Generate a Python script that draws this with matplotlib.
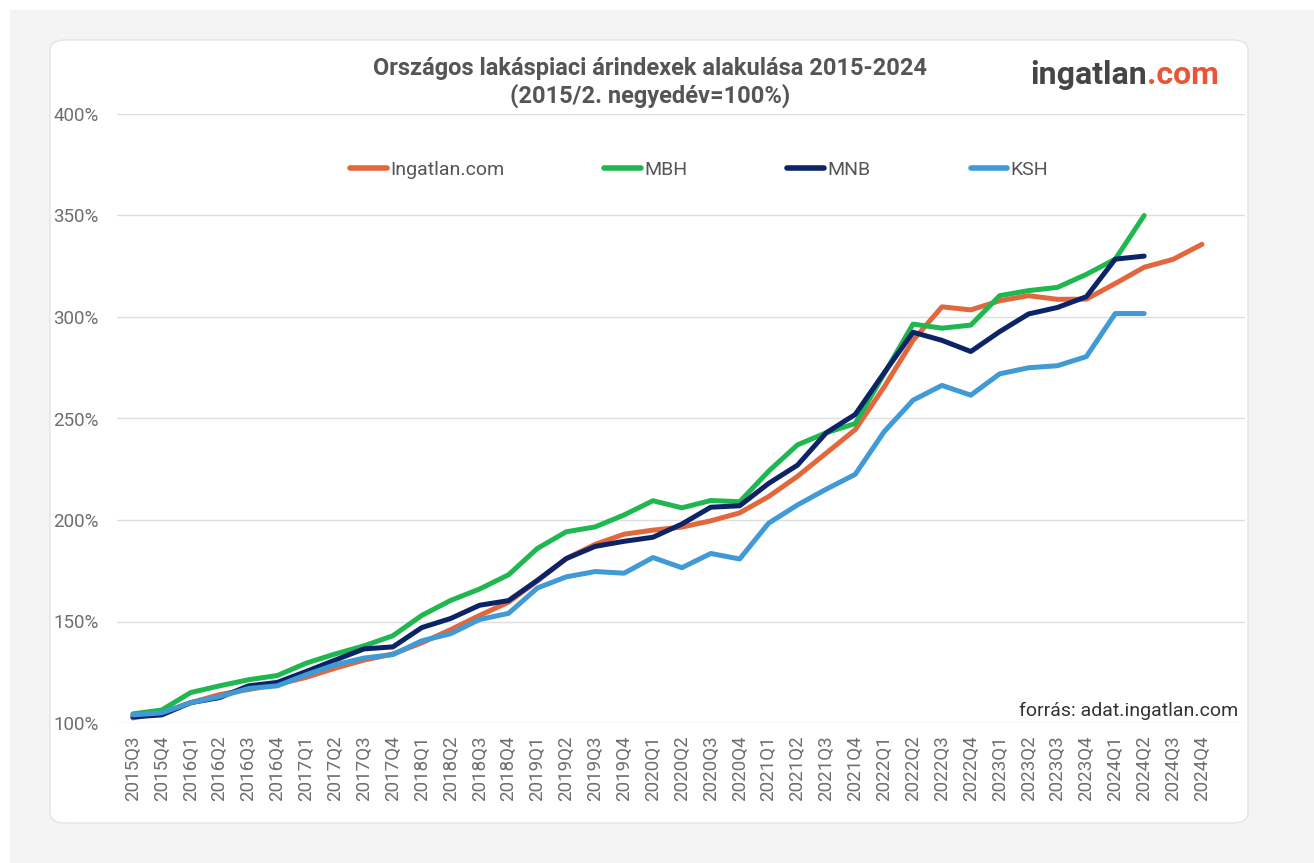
import matplotlib.pyplot as plt
import matplotlib.patches as patches

plt.rcParams['font.family'] = ['Roboto', 'DejaVu Sans']

quarters = ['2015Q3', '2015Q4',
            '2016Q1', '2016Q2', '2016Q3', '2016Q4',
            '2017Q1', '2017Q2', '2017Q3', '2017Q4',
            '2018Q1', '2018Q2', '2018Q3', '2018Q4',
            '2019Q1', '2019Q2', '2019Q3', '2019Q4',
            '2020Q1', '2020Q2', '2020Q3', '2020Q4',
            '2021Q1', '2021Q2', '2021Q3', '2021Q4',
            '2022Q1', '2022Q2', '2022Q3', '2022Q4',
            '2023Q1', '2023Q2', '2023Q3', '2023Q4',
            '2024Q1', '2024Q2', '2024Q3', '2024Q4']

# index values, 2015Q2 = 100
ingatlan = [102.5, 105, 110, 114, 116.5, 119, 122.5, 127, 131, 134,
            139.5, 146, 153, 159.5, 170, 181, 188, 193, 195, 196.5,
            199.6, 203.5, 211.5, 221.5, 233, 244.5, 265.5, 288.5, 305, 303.5,
            308, 310.5, 308.7, 308.8, 316.5, 324.5, 328.4, 335.8]
mbh = [104.5, 106.4, 115, 118.3, 121.3, 123.4, 129.5, 134, 138, 143,
       153, 160.4, 166, 173, 186, 194.2, 196.6, 202.5, 209.5, 206,
       209.6, 209, 224, 237, 243, 247.5, 272, 296.5, 294.5, 296,
       310.5, 313, 314.6, 321, 328.5, 350]
mnb = [103, 104, 110, 112.5, 118.3, 120, 125.4, 131, 136.5, 137.5,
       147, 151.5, 158, 160.3, 170.3, 181, 187, 189.5, 191.5, 198,
       206.3, 207, 218, 227, 243, 252, 272.5, 292.5, 288.5, 283,
       292.8, 301.5, 304.7, 310, 328.5, 330]
ksh = [104, 105, 110, 113, 117, 118.3, 123.8, 128.7, 132, 133.7,
       140.5, 144, 151, 154, 166.5, 172, 174.6, 173.8, 181.5, 176.5,
       183.5, 180.8, 198.4, 207.4, 215.2, 222.5, 243.5, 259, 266.3, 261.5,
       272, 275, 276, 280.5, 301.7, 301.7]

series = [('Ingatlan.com', ingatlan, '#e2673c'),
          ('MBH', mbh, '#1fb74f'),
          ('MNB', mnb, '#0c2467'),
          ('KSH', ksh, '#3f9ad6')]

W, H = 1314, 863
fig = plt.figure(figsize=(W / 100, H / 100), dpi=100)
fig.patch.set_facecolor('white')

# page background and white card, kept behind the axes
fig.add_artist(patches.Rectangle((10 / W, 0), 1, 1 - 10 / H, transform=fig.transFigure,
                                 facecolor='#f4f4f4', edgecolor='none', zorder=-2))
card = patches.FancyBboxPatch((50 / W, 1 - 823 / H), (1248 - 50) / W, (823 - 40) / H,
                              boxstyle='round,pad=0,rounding_size=0.012',
                              transform=fig.transFigure, facecolor='white',
                              edgecolor='#e4e4e4', linewidth=1, zorder=-1)
fig.add_artist(card)

ax = fig.add_axes([117 / W, 1 - 723 / H, (1245 - 117) / W, (723 - 114) / H])
ax.set_facecolor('none')

x = list(range(len(quarters)))
for name, vals, col in series:
    ax.plot(x[:len(vals)], vals, color=col, lw=3.6, label=name,
            solid_capstyle='round', solid_joinstyle='round', zorder=3)

ax.set_xlim(-0.55, len(quarters) - 1 + 1.49)
ax.set_ylim(100, 400)
ax.set_yticks([100, 150, 200, 250, 300, 350, 400])
ax.set_yticklabels([f'{v}%' for v in [100, 150, 200, 250, 300, 350, 400]])
ax.set_xticks(x)
ax.set_xticklabels(quarters, rotation=90)
ax.tick_params(axis='both', length=0, colors='#6e6e6e', labelsize=13.5)
ax.tick_params(axis='x', pad=9)
ax.tick_params(axis='y', pad=13)
ax.grid(axis='y', color='#dedede', lw=1)
ax.set_axisbelow(True)
for s in ax.spines.values():
    s.set_visible(False)

fig.text(650 / W, 1 - 68 / H, 'Országos lakáspiaci árindexek alakulása 2015-2024',
         ha='center', va='center', fontsize=17, fontweight='bold', color='#555555')
fig.text(650 / W, 1 - 96 / H, '(2015/2. negyedév=100%)',
         ha='center', va='center', fontsize=17, fontweight='bold', color='#555555')

# logo
logo = fig.text(1030 / W, 1 - 75 / H, 'ingatlan', ha='left', va='center',
                fontsize=23, fontweight='bold', color='#454545')
fig.canvas.draw()
bb = logo.get_window_extent()
fig.text(bb.x1 / W, 1 - 75 / H, '.com', ha='left', va='center',
         fontsize=23, fontweight='bold', color='#e8563a')

fig.text(1238 / W, 1 - 711 / H, 'forrás: adat.ingatlan.com', ha='right', va='center',
         fontsize=14, color='#333333')

leg = ax.legend(loc='center', bbox_to_anchor=(699 / W, 1 - 170 / H),
                bbox_transform=fig.transFigure, ncol=4, frameon=False,
                fontsize=14, handlelength=1.9, handletextpad=0.15, columnspacing=5.15)
for t in leg.get_texts():
    t.set_color('#555555')
for h in leg.get_lines():
    h.set_linewidth(4)

fig.savefig('out.png', dpi=100, facecolor=fig.get_facecolor())
